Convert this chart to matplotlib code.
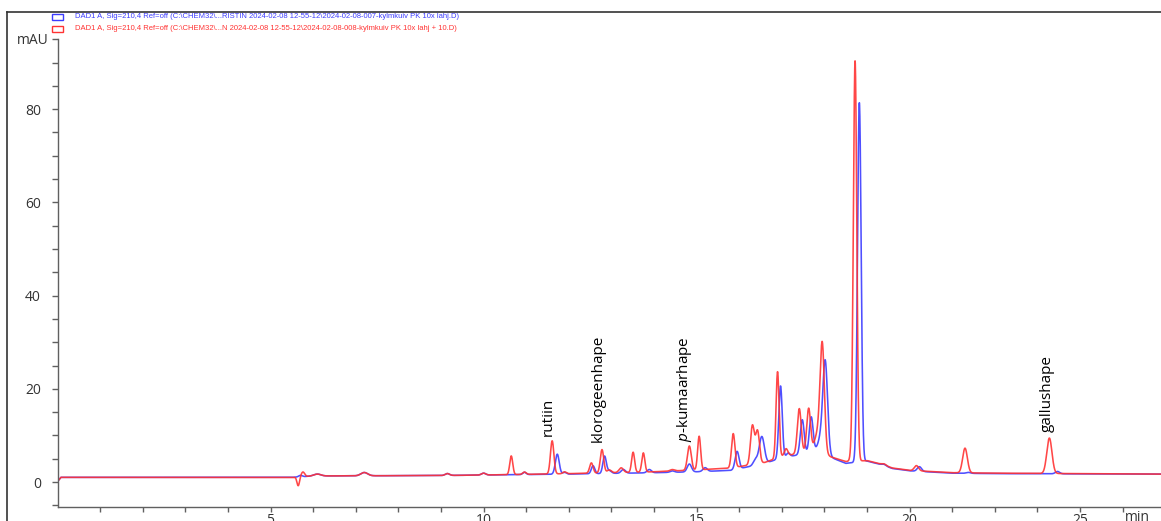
import numpy as np
import matplotlib
matplotlib.use("Agg")
import matplotlib.pyplot as plt
from matplotlib.lines import Line2D
from matplotlib.patches import Rectangle

plt.rcParams['font.family'] = ['Open Sans', 'DejaVu Sans']
plt.rcParams['mathtext.fontset'] = 'custom'
plt.rcParams['mathtext.it'] = 'Open Sans:italic'
plt.rcParams['mathtext.rm'] = 'Open Sans'

# ---------------- data ----------------
# baseline knots (min, mAU)
base_t = [0.0, 0.08, 5.5, 6.0, 9.0, 10.0, 12.0, 14.0, 15.0, 15.8, 16.6, 17.0, 17.5,
          17.9, 18.15, 18.5, 19.0, 19.3, 19.6, 20.0, 21.0, 22.0, 25.9]
base_red = [0.1, 1.0, 1.0, 1.3, 1.4, 1.5, 1.8, 2.2, 2.6, 3.0, 4.2, 5.5, 6.3,
            6.5, 5.4, 4.4, 4.6, 3.9, 3.0, 2.5, 2.0, 1.9, 1.7]
base_blue = [0.1, 1.0, 1.0, 1.3, 1.4, 1.5, 1.7, 2.0, 2.2, 2.5, 4.0, 5.2, 6.0,
             6.3, 5.3, 4.0, 4.5, 3.8, 2.9, 2.4, 1.9, 1.8, 1.7]

# peak tables: retention time (min), height above baseline (mAU), sigma (min)
red_rt = [5.65, 5.76, 6.1, 7.2, 9.15, 10.0, 10.65, 10.96, 11.61, 11.9, 12.53, 12.78,
          12.95, 13.23, 13.51, 13.75, 14.43, 14.83, 15.06, 15.86, 16.31, 16.43, 16.9,
          17.1, 17.41, 17.63, 17.85, 17.95, 18.65, 18.72, 19.4, 20.16, 21.3, 23.28]
red_h = [-1.9, 1.0, 0.4, 0.7, 0.4, 0.4, 4.0, 0.5, 7.1, 0.4, 2.2, 5.0,
         0.6, 1.0, 4.3, 4.1, 0.3, 5.2, 7.2, 7.3, 8.3, 7.0, 18.5,
         1.5, 9.6, 9.4, 4.0, 22.0, 1.5, 85.6, 0.3, 1.1, 5.3, 7.6]
red_w = [0.03, 0.04, 0.08, 0.08, 0.05, 0.05, 0.035, 0.04, 0.04, 0.04, 0.04, 0.04,
         0.05, 0.05, 0.035, 0.035, 0.05, 0.045, 0.035, 0.04, 0.045, 0.045, 0.035,
         0.04, 0.045, 0.045, 0.08, 0.05, 0.04, 0.04, 0.05, 0.05, 0.055, 0.06]

blue_rt = [5.7, 6.1, 7.2, 9.15, 10.0, 10.96, 11.73, 11.9, 12.57, 12.84, 12.95, 13.28,
           13.89, 14.43, 14.83, 15.2, 15.95, 16.38, 16.53, 16.97, 17.15, 17.48, 17.69,
           17.92, 18.02, 18.82, 19.4, 20.23, 21.38, 23.47]
blue_h = [0.3, 0.4, 0.7, 0.4, 0.4, 0.5, 4.3, 0.4, 1.7, 3.7, 0.6, 0.8,
          0.7, 0.3, 1.7, 0.8, 3.8, 1.2, 5.9, 15.5, 0.8, 7.4, 7.8,
          3.0, 19.0, 77.1, 0.3, 1.0, 0.2, 0.5]
blue_w = [0.04, 0.08, 0.08, 0.05, 0.05, 0.04, 0.045, 0.04, 0.04, 0.04, 0.05, 0.05,
          0.05, 0.05, 0.05, 0.05, 0.045, 0.05, 0.06, 0.04, 0.04, 0.045, 0.045,
          0.08, 0.055, 0.042, 0.05, 0.05, 0.05, 0.05]

# annotations: label, position (min), height of text start (mAU)
ann_labels = ['rutiin', 'klorogeenhape', '$p$-kumaarhape', 'gallushape']
ann_x = [11.52, 12.7, 14.72, 23.22]
ann_y = [9.9, 8.6, 8.6, 10.7]

xtick_pos = [5, 10, 15, 20, 24]
xtick_lab = ['5', '10', '15', '20', '25']
ytick_pos = [0, 20, 40, 60, 80]

legend_texts = [
    r"DAD1 A, Sig=210,4 Ref=off (C:\CHEM32\...RISTIN 2024-02-08 12-55-12\2024-02-08-007-kylmkuiv PK 10x lahj.D)",
    r"DAD1 A, Sig=210,4 Ref=off (C:\CHEM32\...N 2024-02-08 12-55-12\2024-02-08-008-kylmkuiv PK 10x lahj + 10.D)",
]

BLUE = '#3c3cff'
RED = '#ff3333'


def trace(t, bt, bv, rts, hs, ws):
    y = np.interp(t, bt, bv)
    for r, h, w in zip(rts, hs, ws):
        y = y + h * np.exp(-0.5 * ((t - r) / w) ** 2)
    return y


W, H = 1161, 521
fig = plt.figure(figsize=(W / 100, H / 100), dpi=100)

# outer frame
fig.add_artist(Line2D([7 / W, 1.0], [1 - 12 / H, 1 - 12 / H], color='#333333', lw=1.2))
fig.add_artist(Line2D([7 / W, 7 / W], [0, 1 - 12 / H], color='#333333', lw=1.2))

ax = fig.add_axes([57.5 / W, 1 - 507 / H, (W - 57.5) / W, (507 - 39) / H])
ax.set_facecolor('none')
t = np.linspace(0.0, 25.9, 8000)
ax.plot(t, trace(t, base_t, base_blue, blue_rt, blue_h, blue_w), color=BLUE, lw=1.15, alpha=0.9)
ax.plot(t, trace(t, base_t, base_red, red_rt, red_h, red_w), color=RED, lw=1.15, alpha=0.9)

ax.set_xlim(0.0, 25.9)
ax.set_ylim(-5.36, 95.06)
for s in ['top', 'right']:
    ax.spines[s].set_visible(False)
for s in ['left', 'bottom']:
    ax.spines[s].set_color('#606060')
    ax.spines[s].set_linewidth(1.0)

ax.set_xticks(xtick_pos)
ax.set_xticklabels(xtick_lab)
ax.set_xticks(np.arange(1, 26), minor=True)
ax.set_yticks(ytick_pos)
ax.set_yticks(np.arange(-5, 96, 5), minor=True)
ax.tick_params(axis='both', which='both', direction='out', color='#606060', width=1.0)
ax.tick_params(axis='y', which='both', length=4, pad=8, labelsize=10, labelcolor='#333333')
ax.tick_params(axis='x', which='both', length=3.5, pad=1, labelsize=10, labelcolor='#333333')

ax.text(25.35, -5.91, 'min', ha='center', va='top',
        fontsize=10, color='#333333', clip_on=False)
fig.text(33 / W, 1 - 40 / H, 'mAU', ha='center', va='center', fontsize=10, color='#333333')

for lab, x, y in zip(ann_labels, ann_x, ann_y):
    ax.text(x, y, lab, rotation=90, ha='center', va='bottom', fontsize=11, color='black')

# legend
for i, (txt, c) in enumerate(zip(legend_texts, [BLUE, RED])):
    yc = 17 + 12 * i
    fig.add_artist(Rectangle((52 / W, 1 - (yc + 2.5) / H), 11 / W, 5 / H,
                             fill=False, edgecolor=c, lw=1.0))
    fig.text(75 / W, 1 - yc / H, txt, ha='left', va='center', fontsize=5.5,
             family='Liberation Sans', color=c)

fig.savefig('out.png', dpi=100)
